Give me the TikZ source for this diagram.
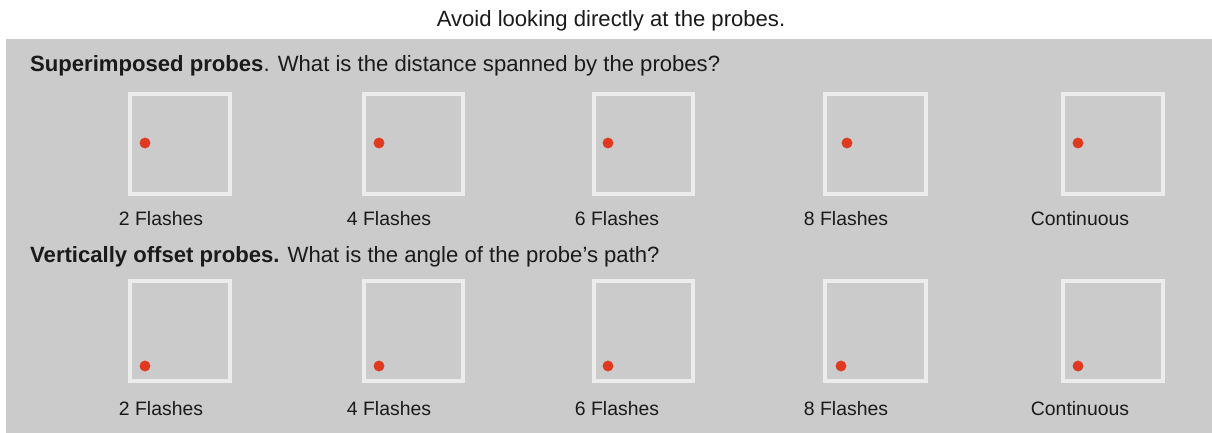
\documentclass[tikz,border=0pt]{standalone}
\usepackage{fontspec}
\setmainfont{Liberation Sans}
\usepackage{tikz}
\usetikzlibrary{backgrounds}

\definecolor{panelgray}{HTML}{CBCBCB}
\definecolor{framegray}{HTML}{ECECEC}
\definecolor{probered}{HTML}{DF3A1F}
\definecolor{inkblack}{HTML}{1A1A1A}

\tikzset{
	txt/.style={inkblack, font=\fontsize{19.4pt}{23pt}\selectfont, inner sep=0pt},
	headline/.style={inkblack, font=\fontsize{22.1pt}{26pt}\selectfont, inner sep=0pt},
	frame/.style={framegray, line width=3.6pt},
	probe/.style={probered}
}

\begin{document}
\begin{tikzpicture}[x=1pt, y=-1pt]

	\useasboundingbox (0, 0) rectangle (1212, 433);
	\fill[white] (0, 0) rectangle (1212, 433);
	\fill[panelgray] (6, 39) rectangle (1212, 433);

	\node[headline, anchor=base] (title) at (611, 27) {Avoid looking directly at the probes.};

	% superimposed
	\node[headline, anchor=base west] (headA) at (30, 72) {\textbf{Superimposed probes}. What is the distance spanned by the probes?};
	\draw[frame] (130, 94) rectangle (230, 194);
	\draw[frame] (364, 94) rectangle (463, 194);
	\draw[frame] (594, 94) rectangle (693, 194);
	\draw[frame] (825, 94) rectangle (926, 194);
	\draw[frame] (1063, 94) rectangle (1163, 194);
	\filldraw[probe] (145, 143) circle (5.2pt);
	\filldraw[probe] (379, 143) circle (5.2pt);
	\filldraw[probe] (608, 143) circle (5.2pt);
	\filldraw[probe] (847, 143) circle (5.2pt);
	\filldraw[probe] (1078, 143) circle (5.2pt);
	\node[txt, anchor=base] (a2) at (161, 225) {2 Flashes};
	\node[txt, anchor=base] (a4) at (389, 225) {4 Flashes};
	\node[txt, anchor=base] (a6) at (617, 225) {6 Flashes};
	\node[txt, anchor=base] (a8) at (846, 225) {8 Flashes};
	\node[txt, anchor=base] (acont) at (1080, 225) {Continuous};

	% vertically offset
	\node[headline, anchor=base west] (headB) at (30, 262) {\textbf{Vertically offset probes.} What is the angle of the probe’s path?};
	\draw[frame] (130, 281) rectangle (230, 381);
	\draw[frame] (364, 281) rectangle (463, 381);
	\draw[frame] (594, 281) rectangle (693, 381);
	\draw[frame] (825, 281) rectangle (926, 381);
	\draw[frame] (1063, 281) rectangle (1163, 381);
	\filldraw[probe] (145, 366) circle (5.2pt);
	\filldraw[probe] (379, 366) circle (5.2pt);
	\filldraw[probe] (608, 366) circle (5.2pt);
	\filldraw[probe] (841, 366) circle (5.2pt);
	\filldraw[probe] (1078, 366) circle (5.2pt);
	\node[txt, anchor=base] (b2) at (161, 415) {2 Flashes};
	\node[txt, anchor=base] (b4) at (389, 415) {4 Flashes};
	\node[txt, anchor=base] (b6) at (617, 415) {6 Flashes};
	\node[txt, anchor=base] (b8) at (846, 415) {8 Flashes};
	\node[txt, anchor=base] (bcont) at (1080, 415) {Continuous};

\end{tikzpicture}
\end{document}
